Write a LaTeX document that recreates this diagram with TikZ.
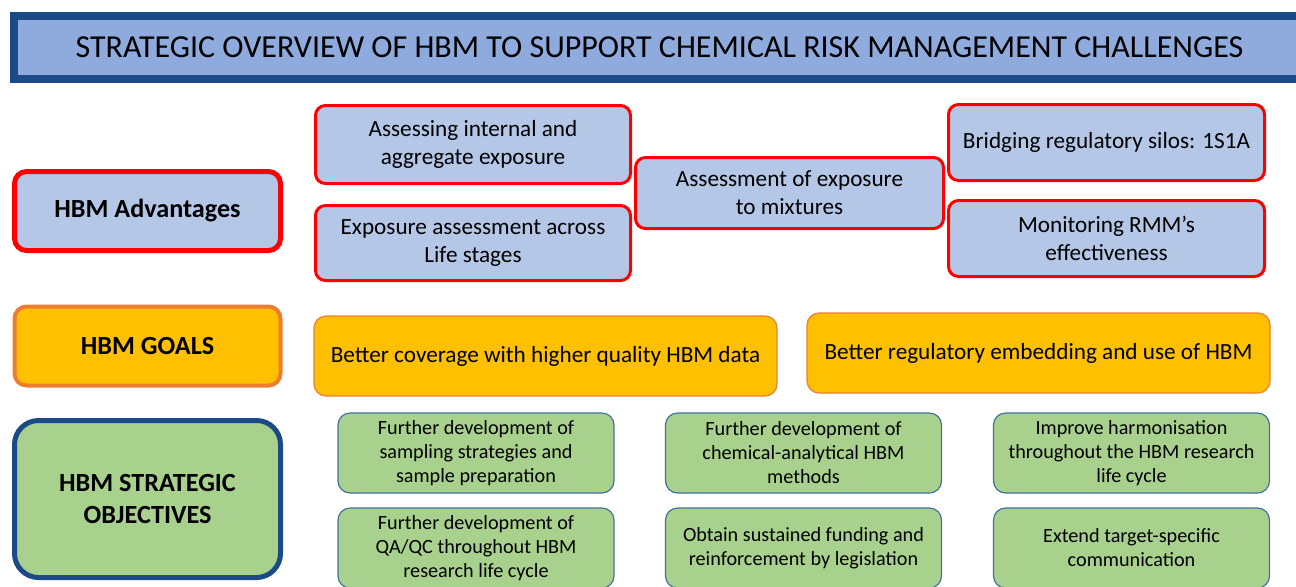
\documentclass[tikz,border=0pt]{standalone}
\usepackage{fontspec}
\setmainfont{Carlito}
\usetikzlibrary{positioning}

\definecolor{titlefill}{RGB}{143,170,220}
\definecolor{darkblue}{RGB}{28,74,135}
\definecolor{advfill}{RGB}{180,199,231}
\definecolor{advred}{RGB}{255,0,0}
\definecolor{goalfill}{RGB}{255,192,0}
\definecolor{goalline}{RGB}{237,125,49}
\definecolor{objfill}{RGB}{169,209,142}
\definecolor{objline}{RGB}{65,113,156}

\begin{document}
\begin{tikzpicture}[x=0.5pt,y=-0.5pt]
\tikzstyle{titlebox} = [rectangle, draw=darkblue, line width=4pt, fill=titlefill,
minimum width=645.5pt, minimum height=31.5pt, font=\fontsize{16}{19}\selectfont]
\tikzstyle{label} = [rectangle, rounded corners=6pt, line width=2.5pt,
minimum width=133pt, minimum height=39.5pt, align=center,
font=\fontsize{13.1}{16}\selectfont\bfseries]
\tikzstyle{advantage} = [rectangle, rounded corners=5pt, draw=advred, line width=1.5pt,
fill=advfill, align=center, font=\fontsize{11.6}{14}\selectfont]
\tikzstyle{goal} = [rectangle, rounded corners=6pt, draw=goalline, line width=0.6pt,
fill=goalfill, minimum width=231.5pt, minimum height=40pt,
font=\fontsize{11.6}{14}\selectfont]
\tikzstyle{objective} = [rectangle, rounded corners=6pt, draw=objline, line width=0.6pt,
fill=objfill, minimum width=138pt, minimum height=40pt, align=center,
font=\fontsize{10.1}{12}\selectfont]

\useasboundingbox (0,0) rectangle (1296,586);
\clip (0,0) rectangle (1296,586);

% title
\node [titlebox] (title) at (659.5,47.5)
{STRATEGIC OVERVIEW OF HBM TO SUPPORT CHEMICAL RISK MANAGEMENT CHALLENGES};

% left column
\node [label, draw=advred, fill=advfill] (advlabel) at (147.5,211) {HBM Advantages};
\node [label, draw=goalline, fill=goalfill, line width=2pt] (goallabel) at (147.5,346) {HBM GOALS};
\node [label, draw=darkblue, fill=objfill, rounded corners=12pt, minimum height=78.5pt]
(objlabel) at (147.5,499) {HBM STRATEGIC\\OBJECTIVES};

% advantages
\node [advantage, minimum width=157.5pt, minimum height=39pt] (internal) at (473,144.5)
{Assessing internal and\\aggregate exposure};
\node [advantage, minimum width=157.5pt, minimum height=37.5pt] (lifestages) at (473,243)
{Exposure assessment across\\Life stages};
\node [advantage, minimum width=154pt, minimum height=35.5pt] (mixtures) at (789.5,193)
{Assessment of exposure\\to mixtures};
\node [advantage, minimum width=158pt, minimum height=38pt] (silos) at (1106.5,142.5)
{Bridging regulatory silos: 1S1A};
\node [advantage, minimum width=158pt, minimum height=38pt] (rmm) at (1106.5,238.5)
{Monitoring RMM’s\\effectiveness};

% goals
\node [goal] (coverage) at (545.5,356) {Better coverage with higher quality HBM data};
\node [goal] (embedding) at (1038.5,353) {Better regulatory embedding and use of HBM};

% objectives, row 1
\node [objective] (sampling) at (476,453)
{Further development of\\sampling strategies and\\sample preparation};
\node [objective] (methods) at (803.5,453)
{Further development of\\chemical-analytical HBM\\methods};
\node [objective] (harmonise) at (1131.5,453)
{Improve harmonisation\\throughout the HBM research\\life cycle};
% objectives, row 2
\node [objective] (qaqc) at (476,548)
{Further development of\\QA/QC throughout HBM\\research life cycle};
\node [objective] (funding) at (803.5,548)
{Obtain sustained funding and\\reinforcement by legislation};
\node [objective] (communication) at (1131.5,548)
{Extend target-specific\\communication};

\end{tikzpicture}
\end{document}
